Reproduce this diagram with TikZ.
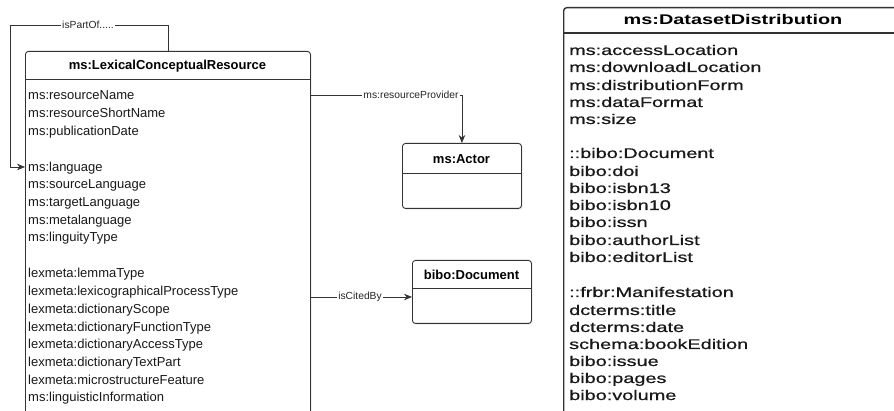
\documentclass[tikz,border=0pt]{standalone}
\usepackage{graphicx}
\usepackage{fontspec}
\setmainfont{Liberation Sans}
\newfontfamily\rfont{Liberation Sans}[FakeBold=0.6]
\usetikzlibrary{arrows.meta,calc,shadows}
\tikzset{
 cls/.style={draw=black!80, fill=white, line width=0.9pt, rounded corners=3pt, inner sep=0pt, anchor=north west,
   drop shadow={opacity=0.12, shadow xshift=1.5pt, shadow yshift=-1.5pt}},
 hdr/.style={draw=black!80, line width=0.9pt},
 attr/.style={anchor=base west, inner sep=0pt, font=\fontsize{13}{15}\selectfont, text=black!90},
 ttl/.style={inner sep=0pt, font=\fontsize{13}{15}\selectfont\bfseries},
 conn/.style={draw=black!80, line width=0.7pt},
 arr/.style={conn, -{Stealth[length=8pt,width=6.5pt]}},
 lbl/.style={fill=white, inner sep=1pt, font=\fontsize{10.3}{12}\selectfont, text=black!85},
 rattr/.style={anchor=base west, inner sep=0pt, font=\rfont\fontsize{14}{16}\selectfont, text=black!90},
}
\newcommand{\wide}[1]{\scalebox{1.42}[1]{#1}}
\begin{document}
\begin{tikzpicture}[x=1pt,y=-1pt]
\useasboundingbox (0,0) rectangle (894,411);
\begin{scope}
\clip (0,0) rectangle (894,411);
% Lexical conceptual resource
\node[cls, minimum width=285pt, minimum height=400pt] (lcr) at (25,51) {};
\draw[hdr] (lcr.west |- 0,79) -- (lcr.east |- 0,79);
\node[ttl] (lcrT) at (167.5,66) {ms:LexicalConceptualResource};
\foreach \t/\y [count=\i] in {
 ms:resourceName/95, ms:resourceShortName/113, ms:publicationDate/131,
 ms:language/167, ms:sourceLanguage/184, ms:targetLanguage/202, ms:metalanguage/220, ms:linguityType/237,
 lexmeta:lemmaType/273, lexmeta:lexicographicalProcessType/291, lexmeta:dictionaryScope/309,
 lexmeta:dictionaryFunctionType/327, lexmeta:dictionaryAccessType/344, lexmeta:dictionaryTextPart/362,
 lexmeta:microstructureFeature/380, ms:linguisticInformation/397}
 {\node[attr] (a\i) at (28,\y+4.5) {\t};}
% Actor
\node[cls, minimum width=119pt, minimum height=65pt] (actor) at (402,143) {};
\draw[hdr] (actor.west |- 0,173) -- (actor.east |- 0,173);
\node[ttl] (actorT) at (461.5,159) {ms:Actor};
% bibo:Document
\node[cls, minimum width=119pt, minimum height=63pt] (bibo) at (412,260) {};
\draw[hdr] (bibo.west |- 0,288) -- (bibo.east |- 0,288);
\node[ttl] (biboT) at (471.5,275) {bibo:Document};
% connectors
\coordinate (lp) at (10,25);
\draw[arr] (lcr.north) |- (lp) |- (lcr.west |- 0,167);
\node[lbl] (ipo) at (88,25) {isPartOf.....};
\draw[arr] (lcr.east |- 0,95) -| (actor.north);
\node[lbl] (rp) at (411,95) {ms:resourceProvider};
\coordinate (cb) at (0,297);
\draw[arr] (lcr.east |- cb) -- (bibo.west |- cb);
\node[lbl] (icb) at (360,297) {isCitedBy};
% Dataset distribution
\node[cls, line width=1.4pt, minimum width=340pt, minimum height=430pt] (dd) at (563,7) {};
\draw[hdr, line width=1.4pt] (dd.west |- 0,33) -- (dd.east |- 0,33);
\node[ttl, font=\fontsize{14}{16}\selectfont\bfseries] (ddT) at (733,20) {\wide{ms:DatasetDistribution}};
\foreach \t/\y [count=\i] in {
 ms:accessLocation/50, ms:downloadLocation/67, ms:distributionForm/85, ms:dataFormat/102, ms:size/119,
 ::bibo:Document/153, bibo:doi/171, bibo:isbn13/188, bibo:isbn10/205, bibo:issn/222, bibo:authorList/240, bibo:editorList/257,
 ::frbr:Manifestation/292, dcterms:title/310, dcterms:date/327, schema:bookEdition/344, bibo:issue/361, bibo:pages/378, bibo:volume/395}
 {\node[rattr] (r\i) at (569,\y+5) {\wide{\t}};}
\end{scope}
\end{tikzpicture}
\end{document}
